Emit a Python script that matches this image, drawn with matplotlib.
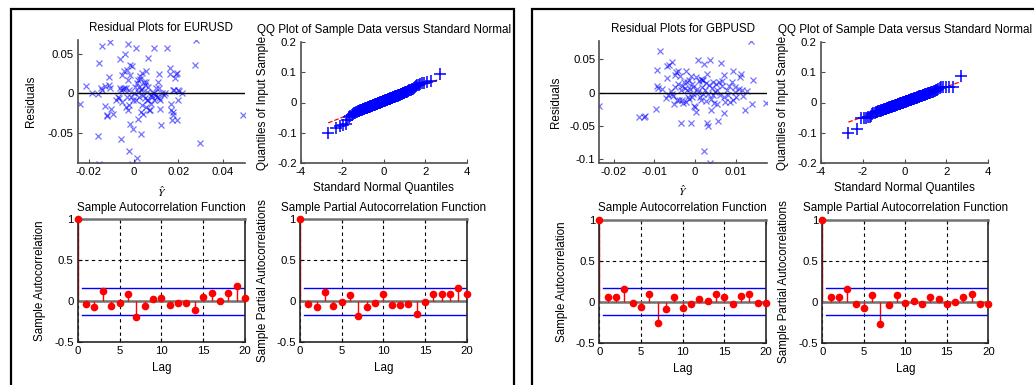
import statistics
import numpy as np
import matplotlib
matplotlib.use("Agg")
import matplotlib.pyplot as plt
from matplotlib.patches import Rectangle
from matplotlib.ticker import FuncFormatter

plt.rcParams["font.family"] = ["Liberation Sans", "DejaVu Sans"]
plt.rcParams["font.size"] = 8.4
plt.rcParams["mathtext.fontset"] = "stix"

W, H = 1034, 385
TITLE_FS, LABEL_FS, TICK_FS = 8.4, 8.4, 8.2

# ---- residual plots (fitted value, residual) ----
eur_fit = [-0.0241, -0.0213, -0.0187, -0.0161, -0.0161, -0.0155, -0.0155, -0.0147, -0.0143, -0.0140,
           -0.0128, -0.0126, -0.0121, -0.0118, -0.0111, -0.0111, -0.0107, -0.0104, -0.0099, -0.0092,
           -0.0077, -0.0070, -0.0067, -0.0063, -0.0063, -0.0058, -0.0055, -0.0053, -0.0053, -0.0048,
           -0.0044, -0.0041, -0.0038, -0.0034, -0.0034, -0.0031, -0.0029, -0.0026, -0.0023, -0.0023,
           -0.0020, -0.0019, -0.0019, -0.0016, -0.0015, -0.0015, -0.0012, -0.0009, -0.0007, -0.0004,
           -0.0001, 0.0003, 0.0006, 0.0009, 0.0010, 0.0013, 0.0015, 0.0018, 0.0018, 0.0020,
           0.0022, 0.0025, 0.0028, 0.0029, 0.0032, 0.0032, 0.0035, 0.0036, 0.0039, 0.0039,
           0.0042, 0.0044, 0.0047, 0.0050, 0.0051, 0.0054, 0.0054, 0.0057, 0.0058, 0.0061,
           0.0063, 0.0064, 0.0066, 0.0069, 0.0073, 0.0076, 0.0079, 0.0083, 0.0086, 0.0091,
           0.0091, 0.0093, 0.0098, 0.0101, 0.0105, 0.0108, 0.0112, 0.0112, 0.0115, 0.0117,
           0.0120, 0.0124, 0.0127, 0.0134, 0.0142, 0.0149, 0.0164, 0.0164, 0.0166, 0.0168,
           0.0171, 0.0174, 0.0175, 0.0178, 0.0181, 0.0185, 0.0188, 0.0193, 0.0196, 0.0200,
           0.0200, 0.0204, 0.0215, 0.0273, 0.0280, 0.0298, 0.0488]
eur_res = [-0.0128, 0.0094, 0.0000, -0.0010, -0.0534, 0.0385, -0.0900, 0.0064, 0.0598, 0.0040,
           -0.0162, 0.0094, -0.0278, -0.0280, 0.0107, 0.0214, 0.0650, 0.0064, -0.0192, -0.0256,
           -0.0077, -0.0043, -0.0064, 0.0436, 0.0064, 0.0043, -0.0577, 0.0235, -0.0107, 0.0051,
           0.0064, 0.0290, 0.0500, -0.0171, 0.0073, 0.0299, -0.0043, -0.0214, 0.0620, 0.0171,
           -0.0150, 0.0043, -0.0726, -0.0393, 0.0363, 0.0235, -0.0043, 0.0342, -0.0890, -0.0085,
           -0.0449, 0.0000, 0.0077, 0.0577, -0.0085, -0.0812, 0.0137, 0.0021, -0.0320, 0.0171,
           0.0085, -0.0043, 0.0180, 0.0222, -0.0513, 0.0043, -0.0235, 0.0265, -0.0150, 0.0051,
           -0.0021, -0.0256, 0.0150, 0.0107, -0.0056, 0.0290, -0.0171, 0.0150, 0.0021, -0.0085,
           0.0449, 0.0085, -0.0085, -0.0214, -0.0214, -0.0128, -0.0021, -0.0043, 0.0000, 0.0577,
           -0.0085, 0.0000, 0.0064, -0.0021, -0.0043, 0.0150, -0.0064, 0.0248, 0.0064, -0.0077,
           -0.0192, -0.0406, 0.0009, -0.0021, 0.0000, 0.0577, 0.0320, 0.0248, -0.0128, -0.0214,
           -0.0342, -0.0278, 0.0043, -0.0235, 0.0043, 0.0192, 0.0248, 0.0265, -0.0342, -0.0085,
           0.0043, 0.0034, 0.0009, 0.0363, 0.0675, -0.0632, -0.0269]

gbp_fit = [-0.0235, -0.0138, -0.0125, -0.0123, -0.0096, -0.0094, -0.0093, -0.0090, -0.0086, -0.0082,
           -0.0072, -0.0070, -0.0070, -0.0066, -0.0064, -0.0060, -0.0057, -0.0056, -0.0053, -0.0052,
           -0.0049, -0.0048, -0.0047, -0.0045, -0.0043, -0.0041, -0.0039, -0.0037, -0.0035, -0.0034,
           -0.0033, -0.0031, -0.0029, -0.0027, -0.0025, -0.0023, -0.0022, -0.0020, -0.0019, -0.0016,
           -0.0015, -0.0014, -0.0012, -0.0011, -0.0010, -0.0008, -0.0007, -0.0006, -0.0004, -0.0002,
           0.0000, 0.0002, 0.0002, 0.0004, 0.0007, 0.0008, 0.0010, 0.0012, 0.0014, 0.0015,
           0.0016, 0.0018, 0.0019, 0.0020, 0.0022, 0.0023, 0.0025, 0.0026, 0.0027, 0.0029,
           0.0030, 0.0031, 0.0033, 0.0034, 0.0037, 0.0037, 0.0039, 0.0039, 0.0041, 0.0043,
           0.0045, 0.0047, 0.0049, 0.0051, 0.0053, 0.0055, 0.0057, 0.0059, 0.0061, 0.0063,
           0.0066, 0.0067, 0.0070, 0.0071, 0.0072, 0.0074, 0.0078, 0.0082, 0.0084, 0.0086,
           0.0090, 0.0093, 0.0094, 0.0097, 0.0098, 0.0101, 0.0107, 0.0111, 0.0112, 0.0115,
           0.0119, 0.0123, 0.0127, 0.0138, 0.0141, 0.0142, 0.0175]
gbp_res = [-0.0205, -0.0375, -0.0375, -0.0355, -0.0250, 0.0095, 0.0345, 0.0075, 0.0625, 0.0060,
           -0.0075, 0.0400, 0.0225, -0.0040, 0.0410, 0.0025, 0.0460, -0.0025, -0.0055, -0.0175,
           0.0260, 0.0085, 0.0310, -0.0115, 0.0135, 0.0325, -0.0105, 0.0250, -0.0455, 0.0035,
           -0.0115, 0.0095, -0.0165, 0.0160, 0.0075, 0.0325, -0.0140, 0.0035, 0.0160, -0.0065,
           0.0185, -0.0100, 0.0060, 0.0245, -0.0455, -0.0065, 0.0125, -0.0025, 0.0085, -0.0205,
           -0.0225, 0.0235, -0.0290, 0.0060, 0.0495, 0.0010, 0.0175, -0.0065, -0.0115, 0.0210,
           0.0085, 0.0195, -0.0025, 0.0195, -0.0875, 0.0425, 0.0035, -0.0125, 0.0145, -0.0465,
           0.0275, -0.0025, -0.0505, 0.0110, 0.0485, -0.1055, -0.0265, -0.0090, 0.0075, 0.0160,
           -0.0040, -0.0155, 0.0010, 0.0135, 0.0045, -0.0175, -0.0425, 0.0160, -0.0040, 0.0445,
           0.0175, 0.0095, -0.0315, 0.0260, -0.0065, -0.0140, 0.0045, -0.0040, 0.0095, -0.0140,
           0.0160, 0.0325, -0.0115, 0.0010, 0.0085, -0.0065, 0.0060, 0.0235, 0.0275, 0.0045,
           -0.0055, -0.0265, 0.0025, 0.0775, -0.0175, 0.0195, -0.0165]

# ---- QQ plots: sorted sample data ----
eur_qq = [-0.1000, -0.0840, -0.0760, -0.0730, -0.0710, -0.0580, -0.0480, -0.0440, -0.0400, -0.0380,
          -0.0345, -0.0330, -0.0312, -0.0300, -0.0291, -0.0282, -0.0270, -0.0262, -0.0250, -0.0241,
          -0.0236, -0.0226, -0.0220, -0.0210, -0.0201, -0.0196, -0.0190, -0.0181, -0.0175, -0.0170,
          -0.0161, -0.0155, -0.0150, -0.0141, -0.0135, -0.0130, -0.0123, -0.0117, -0.0111, -0.0105,
          -0.0100, -0.0094, -0.0089, -0.0083, -0.0078, -0.0073, -0.0067, -0.0062, -0.0057, -0.0052,
          -0.0046, -0.0041, -0.0036, -0.0031, -0.0026, -0.0021, -0.0016, -0.0011, -0.0006, -0.0001,
          0.0004, 0.0009, 0.0014, 0.0018, 0.0023, 0.0028, 0.0033, 0.0038, 0.0043, 0.0048,
          0.0052, 0.0057, 0.0062, 0.0067, 0.0072, 0.0077, 0.0082, 0.0086, 0.0091, 0.0096,
          0.0101, 0.0106, 0.0111, 0.0116, 0.0121, 0.0126, 0.0131, 0.0136, 0.0141, 0.0147,
          0.0152, 0.0157, 0.0162, 0.0167, 0.0173, 0.0178, 0.0183, 0.0189, 0.0194, 0.0200,
          0.0206, 0.0212, 0.0218, 0.0224, 0.0229, 0.0235, 0.0242, 0.0249, 0.0255, 0.0262,
          0.0267, 0.0274, 0.0282, 0.0289, 0.0297, 0.0305, 0.0314, 0.0322, 0.0330, 0.0340,
          0.0350, 0.0360, 0.0371, 0.0383, 0.0395, 0.0409, 0.0423, 0.0440, 0.0460, 0.0480,
          0.0500, 0.0530, 0.0560, 0.0580, 0.0620, 0.0630, 0.0640, 0.0670, 0.0700, 0.0940]
gbp_qq = [-0.1010, -0.0860, -0.0510, -0.0500, -0.0500, -0.0490, -0.0470, -0.0430, -0.0390, -0.0360,
          -0.0340, -0.0328, -0.0316, -0.0305, -0.0295, -0.0285, -0.0276, -0.0268, -0.0259, -0.0250,
          -0.0243, -0.0235, -0.0228, -0.0220, -0.0214, -0.0208, -0.0200, -0.0194, -0.0188, -0.0181,
          -0.0175, -0.0169, -0.0163, -0.0158, -0.0151, -0.0146, -0.0140, -0.0135, -0.0130, -0.0124,
          -0.0119, -0.0114, -0.0109, -0.0104, -0.0099, -0.0094, -0.0089, -0.0084, -0.0079, -0.0074,
          -0.0069, -0.0064, -0.0060, -0.0055, -0.0050, -0.0046, -0.0041, -0.0037, -0.0032, -0.0027,
          -0.0023, -0.0018, -0.0014, -0.0009, -0.0005, 0.0000, 0.0004, 0.0009, 0.0013, 0.0018,
          0.0022, 0.0027, 0.0031, 0.0036, 0.0040, 0.0045, 0.0049, 0.0054, 0.0058, 0.0063,
          0.0067, 0.0072, 0.0077, 0.0081, 0.0086, 0.0090, 0.0095, 0.0100, 0.0104, 0.0109,
          0.0114, 0.0119, 0.0124, 0.0129, 0.0134, 0.0139, 0.0144, 0.0149, 0.0154, 0.0159,
          0.0164, 0.0170, 0.0175, 0.0180, 0.0186, 0.0191, 0.0198, 0.0203, 0.0209, 0.0215,
          0.0221, 0.0228, 0.0234, 0.0240, 0.0248, 0.0254, 0.0260, 0.0268, 0.0275, 0.0283,
          0.0290, 0.0299, 0.0308, 0.0316, 0.0325, 0.0335, 0.0345, 0.0356, 0.0368, 0.0380,
          0.0395, 0.0415, 0.0440, 0.0470, 0.0500, 0.0505, 0.0510, 0.0515, 0.0520, 0.0880]

# ---- ACF / PACF, lags 0..20 ----
lags = list(range(21))
eur_acf = [1, -0.041, -0.070, 0.127, -0.061, -0.020, 0.090, -0.197, -0.061, 0.020, 0.033,
           -0.049, -0.029, -0.020, -0.110, 0.049, 0.102, 0.004, 0.102, 0.184, 0.037]
eur_pacf = [1, -0.041, -0.070, 0.111, -0.061, -0.012, 0.070, -0.184, -0.070, -0.029, 0.082,
            -0.049, -0.049, -0.033, -0.152, -0.012, 0.082, 0.082, 0.090, 0.156, 0.082]
gbp_acf = [1, 0.057, 0.057, 0.152, -0.012, -0.066, 0.090, -0.262, -0.090, 0.057, -0.078,
           -0.025, 0.033, 0.008, 0.090, 0.057, -0.025, 0.070, 0.098, -0.012, -0.012]
gbp_pacf = [1, 0.057, 0.057, 0.152, -0.025, -0.078, 0.082, -0.275, -0.041, 0.082, -0.012,
            0.008, -0.025, 0.057, 0.033, -0.025, 0.000, 0.057, 0.098, -0.033, -0.033]
conf_bound = 0.166

fig = plt.figure(figsize=(W / 100, H / 100), dpi=100)


def ax_px(l, t, r, b):
    return fig.add_axes([l / W, 1 - b / H, (r - l) / W, (b - t) / H])


fmt = FuncFormatter(lambda v, p: "%g" % round(v, 4))


def labels(ax, title, xl, yl, xpos, ypos):
    ax.set_title(title, pad=6.3, fontsize=TITLE_FS)
    ax.set_xlabel(xl, fontsize=LABEL_FS)
    ax.set_ylabel(yl, fontsize=LABEL_FS)
    ax.xaxis.label.set_va("center")
    ax.yaxis.label.set_va("center")
    ax.xaxis.set_label_coords(0.5, xpos)
    ax.yaxis.set_label_coords(ypos, 0.5)
    ax.xaxis.set_major_formatter(fmt)
    ax.yaxis.set_major_formatter(fmt)


def open_axes(ax):
    for s in ["top", "right"]:
        ax.spines[s].set_visible(False)
    for s in ["left", "bottom"]:
        ax.spines[s].set_color("0.3")
        ax.spines[s].set_linewidth(1.2)
    ax.tick_params(direction="in", length=3, width=0.8, color="0.3", pad=3, labelsize=TICK_FS)


def residual_plot(ax, fit, res, name, xlim, ylim, xt, yt, ylpos):
    ax.plot(fit, res, "x", color="blue", alpha=0.55, ms=4.5, mew=0.9)
    ax.axhline(0, color="k", lw=1)
    ax.set_xlim(*xlim)
    ax.set_ylim(*ylim)
    ax.set_xticks(xt)
    ax.set_yticks(yt)
    open_axes(ax)
    labels(ax, "Residual Plots for " + name, r"$\hat{Y}$", "Residuals", -0.235, ylpos)


def qq_plot(ax, data, ylpos):
    n = len(data)
    nd = statistics.NormalDist()
    z = [nd.inv_cdf((i + 0.5) / n) for i in range(n)]
    q1, q3 = np.percentile(data, [25, 75])
    z1, z3 = nd.inv_cdf(0.25), nd.inv_cdf(0.75)
    slope = (q3 - q1) / (z3 - z1)
    zz = np.array([z[0], z[-1]])
    ax.plot(zz, q1 + slope * (zz - z1), "--", color="red", lw=0.9, zorder=1)
    ax.plot(z, data, "+", color="blue", ms=8, mew=1.1, zorder=2)
    ax.set_xlim(-4, 4)
    ax.set_ylim(-0.2, 0.2)
    ax.set_xticks([-4, -2, 0, 2, 4])
    ax.set_yticks([-0.2, -0.1, 0, 0.1, 0.2])
    open_axes(ax)
    labels(ax, "QQ Plot of Sample Data versus Standard Normal",
           "Standard Normal Quantiles", "Quantiles of Input Sample", -0.205, ylpos)


def corr_plot(ax, vals, title, ylab, ylpos):
    ax.grid(True, ls=(0, (3, 3)), color="k", lw=0.8)
    ax.set_axisbelow(True)
    ax.axhline(0, color="0.45", lw=1.8, zorder=1)
    ax.vlines(lags, 0, vals, color="red", lw=1, zorder=2)
    ax.plot(lags, vals, "o", color="red", ms=4.5, zorder=3, clip_on=False)
    ax.plot([0.5, 20], [conf_bound, conf_bound], color="blue", lw=1, zorder=2)
    ax.plot([0.5, 20], [-conf_bound, -conf_bound], color="blue", lw=1, zorder=2)
    ax.set_xlim(0, 20)
    ax.set_ylim(-0.5, 1)
    ax.set_xticks([0, 5, 10, 15, 20])
    ax.set_yticks([-0.5, 0, 0.5, 1])
    for s in ["left", "bottom", "right"]:
        ax.spines[s].set_color("0.15")
        ax.spines[s].set_linewidth(1.2)
    ax.spines["top"].set_color("0.45")
    ax.spines["top"].set_linewidth(1.8)
    ax.tick_params(direction="in", length=3, width=0.8, pad=3, top=True, right=True,
                   labelsize=TICK_FS)
    labels(ax, title, "Lag", ylab, -0.215, ylpos)


# left panel: EURUSD
residual_plot(ax_px(77.7, 40, 245, 163.3), eur_fit, eur_res, "EURUSD",
              (-0.025, 0.0498), (-0.0885, 0.0677), [-0.02, 0, 0.02, 0.04], [-0.05, 0, 0.05], -0.279)
qq_plot(ax_px(301, 41.7, 466.7, 163.3), eur_qq, -0.231)
corr_plot(ax_px(77.7, 219.3, 245, 342), eur_acf, "Sample Autocorrelation Function",
          "Sample Autocorrelation", -0.225)
corr_plot(ax_px(300, 219.3, 466.7, 342), eur_pacf, "Sample Partial Autocorrelation Function",
          "Sample Partial Autocorrelations", -0.224)

# right panel: GBPUSD
residual_plot(ax_px(599.3, 40.7, 766.7, 163.3), gbp_fit, gbp_res, "GBPUSD",
              (-0.0235, 0.0176), (-0.1065, 0.078), [-0.02, -0.01, 0, 0.01], [-0.1, -0.05, 0, 0.05], -0.259)
qq_plot(ax_px(821, 41.7, 988.3, 163.3), gbp_qq, -0.229)
corr_plot(ax_px(599.3, 220, 766, 342.7), gbp_acf, "Sample Autocorrelation Function",
          "Sample Autocorrelation", -0.225)
corr_plot(ax_px(822.3, 220, 988.3, 342.7), gbp_pacf, "Sample Partial Autocorrelation Function",
          "Sample Partial Autocorrelations", -0.231)

# panel frames
for x0, x1 in [(10.5, 513.5), (532, 1045)]:
    fig.patches.append(Rectangle((x0 / W, -0.1), (x1 - x0) / W, 1.1 - 8.5 / H,
                                 transform=fig.transFigure, fill=False, ec="k", lw=1.6))

fig.savefig("out.png", dpi=100)
